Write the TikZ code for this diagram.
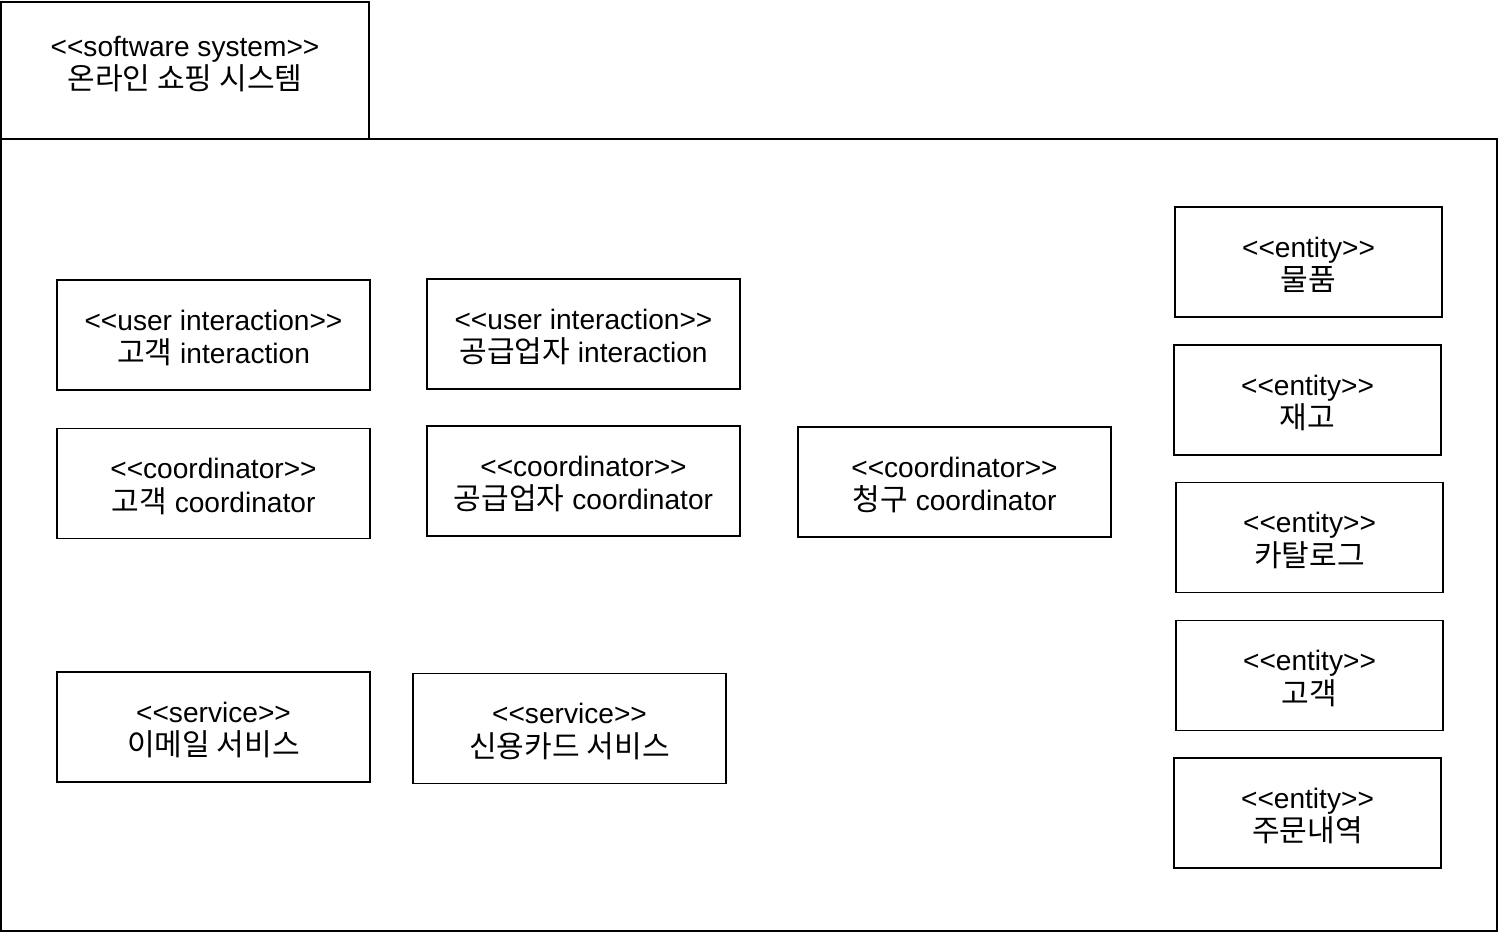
\documentclass[tikz,border=0pt]{standalone}
\usepackage{fontspec}
\setmainfont{Liberation Sans}[Ligatures=TeXOff]
\newfontfamily\kr{Noto Sans CJK KR}[Scale=1.07]
\begin{document}
\begin{tikzpicture}[x=0.02cm,y=-0.02cm,
  txt/.style={align=center,inner sep=0pt,font=\fontsize{16pt}{19pt}\selectfont},
  box/.style={draw=black,line width=1.1pt,fill=white,inner sep=0pt},
  cbox/.style={box,minimum width=6.26cm,minimum height=2.2cm},
  ebox/.style={box,minimum width=5.34cm,minimum height=2.2cm},
  lab/.style={label={[txt,yshift=-0.06cm]center:{#1}}}]
\useasboundingbox (0,0) rectangle (1498,932);
\fill[white] (0,0) rectangle (1498,932);
% package frame
\draw[line width=1.1pt] (1,139) rectangle (1497,931);
\draw[line width=1.1pt] (1,2) rectangle (369,139);
\node[txt] (title) at (185,64)
  {<<software system>>\\{\kr 온라인 쇼핑 시스템}};
% interaction
\node[cbox,lab={<<user interaction>>\\{\kr 고객} interaction}] (gi) at (213.5,335) {};
\node[cbox,lab={<<user interaction>>\\{\kr 공급업자} interaction}] (si) at (583.5,334) {};
% coordinators
\node[cbox,lab={<<coordinator>>\\{\kr 고객} coordinator}] (gc) at (213.5,483.5) {};
\node[cbox,lab={<<coordinator>>\\{\kr 공급업자} coordinator}] (sc) at (583.5,481) {};
\node[cbox,lab={<<coordinator>>\\{\kr 청구} coordinator}] (bc) at (954.5,482) {};
% services
\node[cbox,lab={<<service>>\\{\kr 이메일 서비스}}] (em) at (213.5,727) {};
\node[cbox,lab={<<service>>\\{\kr 신용카드 서비스}}] (cc) at (569.5,728.5) {};
% entities
\node[ebox,lab={<<entity>>\\{\kr 물품}}] (e1) at (1308.5,262) {};
\node[ebox,lab={<<entity>>\\{\kr 재고}}] (e2) at (1307.5,400) {};
\node[ebox,lab={<<entity>>\\{\kr 카탈로그}}] (e3) at (1309.5,537.5) {};
\node[ebox,lab={<<entity>>\\{\kr 고객}}] (e4) at (1309.5,675.5) {};
\node[ebox,lab={<<entity>>\\{\kr 주문내역}}] (e5) at (1307.5,813) {};
\end{tikzpicture}
\end{document}
